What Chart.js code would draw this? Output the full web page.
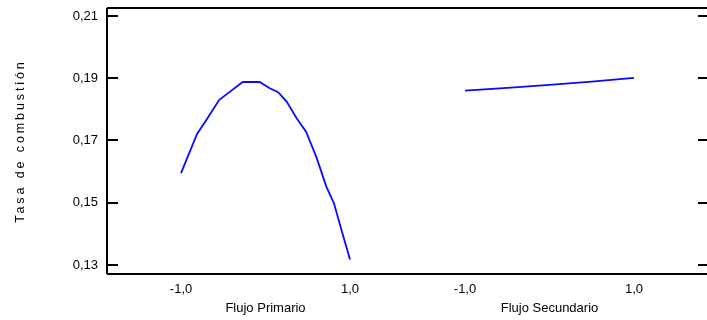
<!DOCTYPE html>
<html>
<head>
<meta charset="utf-8">
<script src="https://cdn.jsdelivr.net/npm/chart.js@4/dist/chart.umd.min.js"></script>
<style>
  html, body { margin: 0; padding: 0; background: #fff; overflow: hidden; }
  #wrap { width: 707px; height: 320px; position: relative; }
</style>
</head>
<body>
<div id="wrap"><canvas id="c"></canvas></div>
<script>
// ---- data ----
const factorNames = ['Flujo Primario', 'Flujo Secundario'];
const primaryLevels = [-1.0, -0.81, -0.70, -0.55, -0.42, -0.27, -0.07, 0.05, 0.15, 0.25, 0.37, 0.48, 0.60, 0.72, 0.81, 0.91, 1.0];
const primaryValues = [0.1595, 0.1721, 0.1766, 0.1830, 0.1857, 0.1888, 0.1888, 0.1868, 0.1855, 0.1825, 0.1771, 0.1728, 0.1648, 0.1552, 0.1498, 0.1402, 0.1318];
const secondaryLevels = [-1.0, -0.5, 0.0, 0.5, 1.0];
const secondaryValues = [0.1860, 0.1869, 0.1879, 0.1889, 0.1901];
const yTicks = [0.13, 0.15, 0.17, 0.19, 0.21];
const xTickLevels = [-1, 1];
const xTickLabels = ['-1,0', '1,0'];
const yTitle = 'Tasa de combustión';

// ---- layout constants ----
const SECOND_OFFSET = 3.361;   // horizontal gap between the two factor panels (in level units)
const FONT = '"Liberation Sans", Arial, sans-serif';

const toPts = (lv, vals, off) => lv.map((l, i) => ({ x: l + off, y: vals[i] }));
const xTickPositions = [];
const xTickText = [];
[0, SECOND_OFFSET].forEach(off => xTickLevels.forEach((l, i) => { xTickPositions.push(l + off); xTickText.push(xTickLabels[i]); }));

const decoPlugin = {
  id: 'deco',
  afterDraw(chart) {
    const { ctx, chartArea: a, scales } = chart;
    const ys = scales.y, xs = scales.x;
    ctx.save();
    ctx.strokeStyle = '#000';
    ctx.lineWidth = 2;
    ctx.beginPath();
    ctx.moveTo(a.left, a.top); ctx.lineTo(a.right + 5, a.top);
    ctx.moveTo(a.left, a.top); ctx.lineTo(a.left, a.bottom);
    ctx.moveTo(a.left, a.bottom); ctx.lineTo(a.right + 5, a.bottom);
    yTicks.forEach(v => {
      const y = Math.round(ys.getPixelForValue(v));
      ctx.moveTo(a.left, y); ctx.lineTo(a.left + 11, y);
      ctx.moveTo(a.right + 1, y); ctx.lineTo(a.right - 9, y);
    });
    ctx.stroke();
    // factor names
    ctx.fillStyle = '#000';
    ctx.font = '13px ' + FONT;
    ctx.textAlign = 'center';
    ctx.textBaseline = 'middle';
    ctx.fillText(factorNames[0], xs.getPixelForValue(0), 308);
    ctx.fillText(factorNames[1], xs.getPixelForValue(SECOND_OFFSET), 308);
    // y title, letter-spaced
    ctx.translate(21, 141);
    ctx.rotate(-Math.PI / 2);
    ctx.font = '12.5px ' + FONT;
    if ('letterSpacing' in ctx) ctx.letterSpacing = '2.9px';
    ctx.textAlign = 'center';
    ctx.fillText(yTitle, 0, 0);
    ctx.restore();
  }
};

new Chart(document.getElementById('c'), {
  type: 'line',
  data: {
    datasets: [
      { data: toPts(primaryLevels, primaryValues, 0), borderColor: '#0a0aff', borderWidth: 1.8, pointRadius: 0, tension: 0, fill: false },
      { data: toPts(secondaryLevels, secondaryValues, SECOND_OFFSET), borderColor: '#0a0aff', borderWidth: 1.8, pointRadius: 0, tension: 0, fill: false }
    ]
  },
  options: {
    responsive: true,
    maintainAspectRatio: false,
    animation: false,
    events: [],
    layout: { padding: { top: 8, right: 0, left: 0, bottom: 0 } },
    plugins: { legend: { display: false }, tooltip: { enabled: false } },
    scales: {
      x: {
        type: 'linear',
        min: -1.876,
        max: 5.225,
        afterFit: s => { s.height = 46; s.paddingLeft = 0; s.paddingRight = 0; },
        afterBuildTicks: s => { s.ticks = xTickPositions.map(v => ({ value: v })); },
        grid: { display: false, drawTicks: false },
        border: { display: false },
        ticks: {
          autoSkip: false,
          maxRotation: 0,
          padding: 8,
          color: '#000',
          font: { family: FONT, size: 13 },
          callback: (v, i) => xTickText[i]
        }
      },
      y: {
        type: 'linear',
        min: 0.13 - 9 / 3112.5,
        max: 0.21 + 8 / 3112.5,
        afterFit: s => { s.width = 107; s.paddingTop = 0; s.paddingBottom = 0; },
        afterBuildTicks: s => { s.ticks = yTicks.map(v => ({ value: v })); },
        grid: { display: false, drawTicks: false },
        border: { display: false },
        ticks: {
          padding: 9,
          color: '#000',
          font: { family: FONT, size: 13 },
          callback: v => v.toFixed(2).replace('.', ',')
        }
      }
    }
  },
  plugins: [decoPlugin]
});
</script>
</body>
</html>
